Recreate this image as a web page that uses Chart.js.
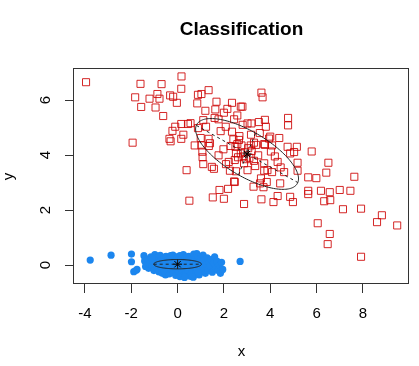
<!DOCTYPE html>
<html><head><meta charset="utf-8">
<script src="https://cdn.jsdelivr.net/npm/chart.js@4"></script>
<style>html,body{margin:0;padding:0;background:#fff}</style>
</head><body>
<canvas id="c" width="419" height="366"></canvas>
<script>
// ---- data ----
const redX = [-3.95,-1.60,-0.69,0.17,0.16,-1.83,-1.21,-0.87,-0.78,-0.32,-0.19,-0.03,-1.57,-0.95,-0.62,-0.10,0.16,0.45,-0.22,0.25,-0.35,-0.30,0.16,-1.94,
1.34,0.88,1.03,3.62,3.67,0.85,1.68,2.35,1.20,1.63,2.15,2.80,2.00,2.58,1.60,1.77,2.44,3.77,4.77,4.77,1.11,0.56,1.23,0.88,2.81,3.19,3.51,3.81,3.17,2.67,2.41,4.00,4.39,1.00,1.34,
3.39,3.77,4.08,3.16,2.76,1.03,4.75,5.15,0.74,1.35,1.98,2.29,2.58,1.08,1.77,2.52,1.11,1.48,1.57,2.09,2.21,0.39,2.26,2.47,1.81,2.18,1.52,2.00,0.51,2.61,2.50,2.73,3.30,3.74,4.03,3.48,
2.47,2.87,3.30,3.74,4.32,4.86,5.03,5.79,6.51,5.18,2.52,3.02,3.74,4.08,4.60,5.18,2.44,3.56,3.85,4.43,5.64,5.99,6.42,3.28,3.71,4.32,4.86,4.98,5.64,5.64,6.19,6.57,6.33,3.62,4.14,2.87,
7.63,7.00,7.46,7.14,7.92,8.82,8.61,9.48,6.05,6.57,6.48,7.92,2.73,3.02,3.88,6.59,1.40,1.07,1.86,2.08,2.90,3.10,2.85,3.20,3.05,2.95,
3.35,2.65,3.55,4.20,3.95,2.35,4.45,3.60];
const redY = [6.65,6.59,6.58,6.86,6.41,6.10,6.05,6.22,6.05,6.17,6.12,5.90,5.75,5.73,5.42,5.03,5.13,5.13,4.88,4.74,4.59,4.50,4.59,4.45,
6.36,6.19,6.22,6.27,6.10,5.88,5.94,5.90,5.61,5.66,5.68,5.76,5.54,5.44,5.35,5.30,5.30,5.28,5.35,5.08,5.27,5.16,5.03,4.98,5.10,5.15,5.20,5.03,4.74,4.69,4.57,4.67,4.62,4.62,4.59,
4.37,4.37,4.35,4.35,4.35,4.35,4.30,4.30,4.35,4.33,4.21,4.33,4.40,3.92,3.99,4.06,3.67,3.57,3.50,3.67,3.75,3.45,3.43,3.02,2.73,2.77,2.46,2.41,2.34,3.92,4.30,4.06,4.45,4.40,4.13,3.99,
3.82,3.70,3.79,3.70,3.75,4.06,4.11,4.13,3.72,3.72,3.41,3.45,3.43,3.38,3.38,3.43,3.04,2.97,3.02,2.97,3.19,3.16,3.36,2.85,2.83,2.51,2.48,2.29,2.70,2.58,2.70,2.65,2.32,2.39,2.29,2.22,
3.21,2.73,2.70,2.03,2.05,1.81,1.56,1.44,1.52,1.13,0.76,0.30,5.76,5.15,3.45,2.36,4.43,4.12,4.87,5.03,4.10,3.90,3.95,4.15,4.25,3.85,
3.60,4.55,4.80,3.95,4.60,4.85,3.55,3.15];

const blueX = [-3.77,-2.87,-1.99,-1.99,-1.89,-1.75,-1.80,2.70,
-1.45,-1.42,-1.38,-1.30,-1.25,-1.20,-1.15,-1.10,-1.05,-1.02,-0.98,-0.95,-0.90,-0.88,-0.85,-0.80,-0.78,-0.75,-0.72,-0.70,-0.66,-0.63,-0.60,-0.58,-0.55,-0.52,-0.50,-0.47,-0.45,-0.42,-0.40,-0.37,-0.35,-0.32,-0.30,-0.27,-0.25,-0.22,-0.20,-0.18,-0.15,-0.12,-0.10,-0.08,-0.05,-0.03,
0.00,0.02,0.05,0.07,0.10,0.12,0.15,0.18,0.20,0.23,0.25,0.28,0.30,0.33,0.35,0.38,0.40,0.43,0.45,0.48,0.50,0.53,0.55,0.58,0.60,0.63,0.65,0.68,0.70,0.72,0.75,0.78,0.80,0.83,0.85,0.88,0.90,0.93,0.95,0.98,
1.00,1.03,1.06,1.10,1.13,1.16,1.20,1.24,1.28,1.32,1.36,1.40,1.45,1.50,1.55,1.60,1.65,1.70,1.75,1.80,1.85,1.90,1.95,-0.60,0.20,0.40,-0.30,0.90,-1.10,0.10,0.30,0.62];
const blueY = [0.18,0.36,0.40,0.12,-0.24,-0.16,-0.20,0.13,
0.34,0.15,-0.05,0.22,-0.12,0.05,0.30,-0.02,0.12,-0.20,0.38,0.20,0.02,-0.10,0.28,-0.25,0.10,0.35,-0.05,0.18,-0.30,0.05,0.26,-0.14,0.12,-0.36,0.32,0.00,-0.22,0.20,-0.08,0.10,-0.32,0.28,-0.02,0.15,-0.18,0.06,0.36,-0.28,0.22,-0.06,0.12,-0.38,0.30,0.02,
-0.15,0.18,-0.30,0.08,0.34,-0.10,0.20,-0.02,-0.24,0.14,0.38,-0.14,0.04,0.26,-0.34,0.10,-0.06,0.22,-0.20,0.32,0.00,-0.40,0.16,-0.10,0.28,-0.26,0.06,-0.44,0.40,-0.04,0.20,-0.30,0.12,0.42,-0.16,0.02,0.30,-0.36,0.10,-0.08,
0.24,-0.22,0.05,0.36,-0.12,0.18,-0.30,0.02,0.26,-0.18,0.10,-0.04,0.20,-0.26,0.08,0.30,-0.12,0.14,-0.20,0.00,-0.30,0.10,-0.16,-0.18,0.10,0.28,0.34,-0.28,0.24,-0.42,-0.45,-0.42];

// class means and ellipse semi-axes (blue, red)
const meanX = [0.00, 3.00];
const meanY = [0.03, 4.04];
const majorAxisX = [1.03, 2.19];
const majorAxisY = [0.00, -1.04];
const minorAxisX = [0.00, 0.37];
const minorAxisY = [0.17, 0.76];

const xTicks = [-4,-2,0,2,4,6,8];
const yTicks = [0,2,4,6];

const FONT = '"Liberation Sans", Arial, Helvetica, sans-serif';
Chart.defaults.font.family = FONT;
Chart.defaults.color = '#000';

const pts = (xs, ys) => xs.map((x, i) => ({x, y: ys[i]}));

const rPlot = {
  id: 'rPlot',
  afterDatasetsDraw(chart) {
    const {ctx, scales: {x: xs, y: ys}} = chart;
    ctx.save();
    ctx.strokeStyle = '#222';
    ctx.lineWidth = 1;
    for (let k = 0; k < meanX.length; k++) {
      const cx = meanX[k], cy = meanY[k];
      const ax = majorAxisX[k], ay = majorAxisY[k], bx = minorAxisX[k], by = minorAxisY[k];
      ctx.setLineDash([]);
      ctx.beginPath();
      for (let i = 0; i <= 160; i++) {
        const t = 2 * Math.PI * i / 160;
        const px = xs.getPixelForValue(cx + ax * Math.cos(t) + bx * Math.sin(t));
        const py = ys.getPixelForValue(cy + ay * Math.cos(t) + by * Math.sin(t));
        if (i) ctx.lineTo(px, py); else ctx.moveTo(px, py);
      }
      ctx.stroke();
      ctx.setLineDash([3, 3]);
      ctx.beginPath();
      ctx.moveTo(xs.getPixelForValue(cx - ax), ys.getPixelForValue(cy - ay));
      ctx.lineTo(xs.getPixelForValue(cx + ax), ys.getPixelForValue(cy + ay));
      ctx.moveTo(xs.getPixelForValue(cx - bx), ys.getPixelForValue(cy - by));
      ctx.lineTo(xs.getPixelForValue(cx + bx), ys.getPixelForValue(cy + by));
      ctx.stroke();
    }
    ctx.restore();
  },
  afterDraw(chart) {
    const {ctx, chartArea: a, scales: {y: ys}} = chart;
    ctx.save();
    ctx.strokeStyle = '#333';
    ctx.lineWidth = 1;
    ctx.strokeRect(a.left - 0.5, a.top - 0.5, a.right - a.left, a.bottom - a.top);
    ctx.fillStyle = '#000';
    ctx.font = '15px ' + FONT;
    ctx.textAlign = 'center';
    ctx.textBaseline = 'middle';
    ys.ticks.forEach(t => {
      const py = ys.getPixelForValue(t.value);
      ctx.save();
      ctx.translate(46, py);
      ctx.rotate(-Math.PI / 2);
      ctx.fillText(String(t.value), 0, 0);
      ctx.restore();
    });
    ctx.restore();
  }
};

new Chart(document.getElementById('c'), {
  type: 'scatter',
  data: {
    datasets: [
      {label: 'means', data: pts(meanX, meanY), pointStyle: 'star', pointRadius: 4.5,
       borderColor: '#000', borderWidth: 1, backgroundColor: 'rgba(0,0,0,0)', order: 0},
      {label: '2', data: pts(redX, redY), pointStyle: 'rect', pointRadius: 5,
       borderColor: 'rgba(205,0,0,0.85)', borderWidth: 1, backgroundColor: 'rgba(0,0,0,0)', order: 1},
      {label: '1', data: pts(blueX, blueY), pointStyle: 'circle', pointRadius: 3.6,
       backgroundColor: '#1C86EE', borderColor: '#1C86EE', borderWidth: 0, order: 2}
    ]
  },
  options: {
    responsive: false,
    animation: false,
    events: [],
    layout: {padding: {left: 0, right: 10, top: 0, bottom: 0}},
    plugins: {
      legend: {display: false},
      tooltip: {enabled: false},
      title: {display: true, fullSize: false, text: 'Classification', color: '#000',
              font: {size: 19, weight: 'bold'}, padding: {top: 18.6, bottom: 27.6}}
    },
    scales: {
      x: {
        type: 'linear', position: 'bottom', min: -4.47, max: 9.99,
        afterBuildTicks: s => { s.ticks = xTicks.map(v => ({value: v})); },
        afterFit: s => { s.height = 82; },
        border: {display: false},
        grid: {drawOnChartArea: false, drawTicks: true, tickLength: 9, color: '#333', tickColor: '#333', lineWidth: 1},
        ticks: {font: {size: 15}, color: '#000', padding: 12, maxRotation: 0, minRotation: 0, autoSkip: false},
        title: {display: true, text: 'x', color: '#000', font: {size: 15}, padding: {top: 0, bottom: 5}}
      },
      y: {
        type: 'linear', position: 'left', min: -0.69, max: 7.13,
        afterBuildTicks: s => { s.ticks = yTicks.map(v => ({value: v})); },
        afterFit: s => { s.width = 74; },
        border: {display: false},
        grid: {drawOnChartArea: false, drawTicks: true, tickLength: 9, color: '#333', tickColor: '#333', lineWidth: 1},
        ticks: {display: false},
        title: {display: true, text: 'y', color: '#000', font: {size: 15}, padding: {top: 0, bottom: 0}}
      }
    }
  },
  plugins: [rPlot]
});
</script>
</body></html>
